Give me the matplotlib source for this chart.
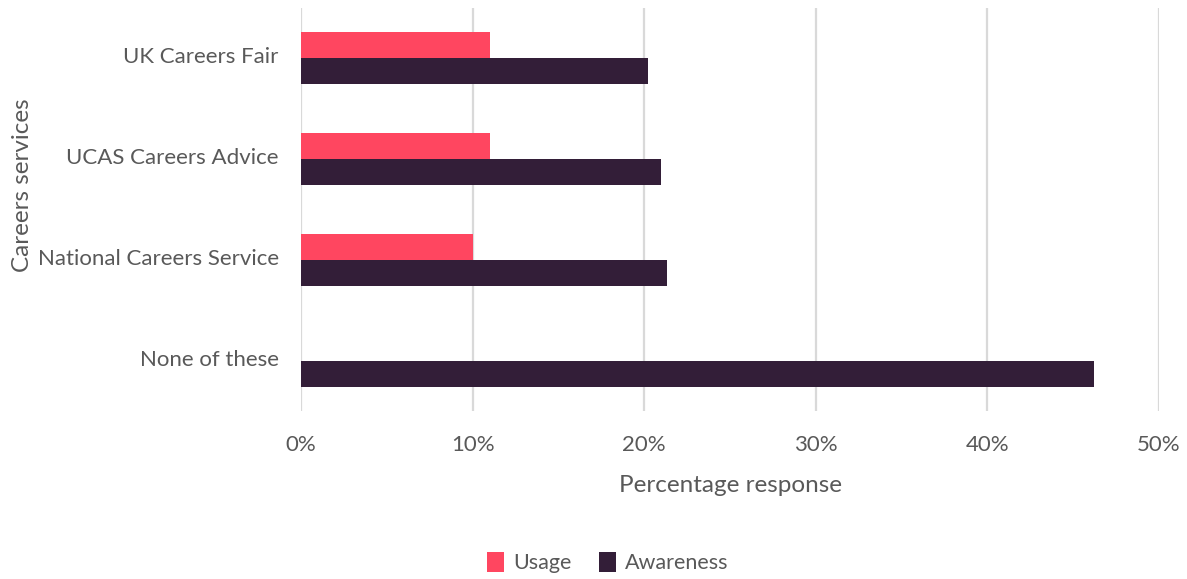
import numpy as np
import matplotlib.pyplot as plt
from matplotlib.ticker import FuncFormatter

plt.rcParams['font.family'] = ['Lato', 'DejaVu Sans']

# Data
services = ['UK Careers Fair', 'UCAS Careers Advice', 'National Careers Service', 'None of these']
usage = [11.0, 11.0, 10.0, 0.0]
awareness = [20.2, 21.0, 21.35, 46.2]

text_col = '#595959'
pink = '#FF4660'
dark = '#331E38'

fig = plt.figure(figsize=(11.87, 5.79), dpi=100)
ax = fig.add_axes([0.2536, 0.2893, 0.7228, 0.6977])

y = np.arange(len(services))
h = 0.26
ax.barh(y - h / 2, usage, height=h, color=pink, label='Usage', zorder=3)
ax.barh(y + h / 2, awareness, height=h, color=dark, label='Awareness', zorder=3)

ax.set_ylim(len(services) - 0.5, -0.5)
ax.set_xlim(0, 50)
ax.set_xticks(np.arange(0, 51, 10))
ax.xaxis.set_major_formatter(FuncFormatter(lambda v, p: f'{v:.0f}%'))
ax.set_yticks(y - 0.03)
ax.set_yticklabels(services)

ax.grid(axis='x', color='#d9d9d9', linewidth=1.6, zorder=0)
for s in ax.spines.values():
    s.set_visible(False)
ax.tick_params(axis='both', length=0, labelsize=16, colors=text_col)
ax.tick_params(axis='x', pad=17)
ax.tick_params(axis='y', pad=16)
ax.grid(axis='y', visible=False)

ax.set_xlabel('Percentage response', fontsize=17.5, color=text_col, labelpad=14)
fig.text(0.019, 0.68, 'Careers services', rotation=90, ha='center', va='center',
         fontsize=17.5, color=text_col)

leg = fig.legend(loc='center', bbox_to_anchor=(0.512, 0.028), ncol=2, frameon=False,
                 fontsize=15.5, handlelength=0.8, handleheight=1.0, columnspacing=1.3,
                 handletextpad=0.4)
for t in leg.get_texts():
    t.set_color(text_col)

fig.savefig('out.png', dpi=100)
